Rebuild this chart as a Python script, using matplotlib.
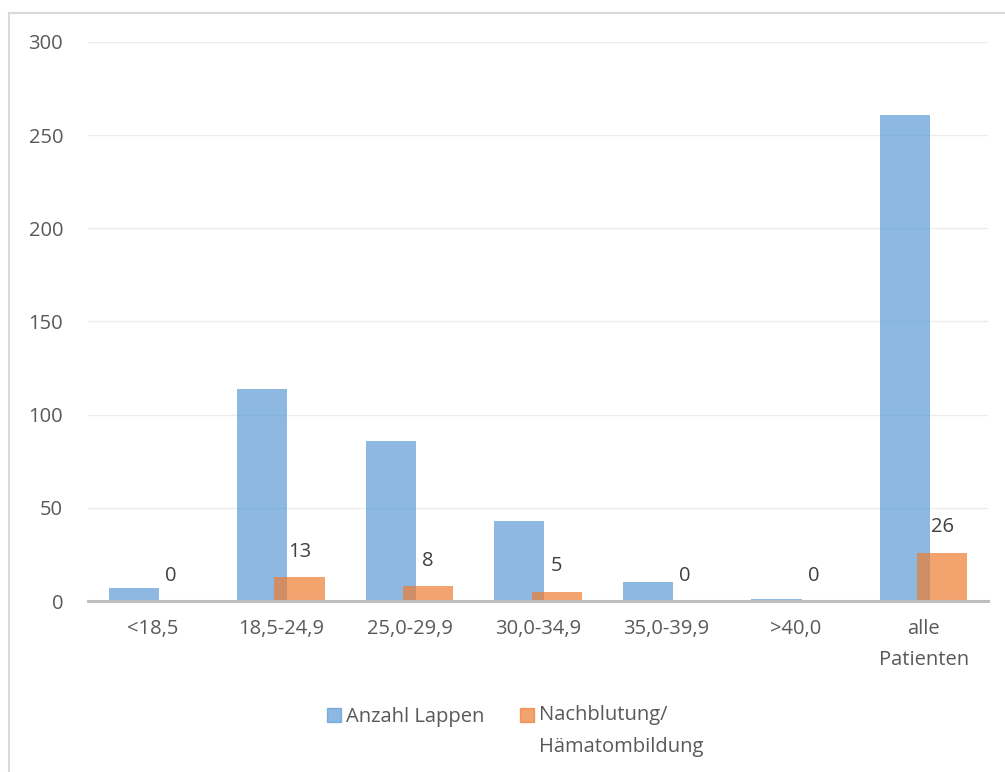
import matplotlib
matplotlib.use("Agg")
import matplotlib.pyplot as plt
from matplotlib.patches import Rectangle
from matplotlib.lines import Line2D
import numpy as np

plt.rcParams['font.family'] = ['Open Sans', 'DejaVu Sans']

categories = ['<18,5', '18,5-24,9', '25,0-29,9', '30,0-34,9', '35,0-39,9', '>40,0', 'alle\nPatienten']
anzahl_lappen = [7, 114, 86, 43, 10, 1, 261]
nachblutung = [0, 13, 8, 5, 0, 0, 26]

series_names = ['Anzahl Lappen', 'Nachblutung/\nHämatombildung']
blue = '#5B9BD5'
orange = '#ED7D31'
text_col = '#595959'
fs = 14.5

fig = plt.figure(figsize=(10.05, 7.72), dpi=100)
ax = fig.add_axes([0.0876, 0.2215, 0.8955, 0.7241])

x = np.arange(len(categories))
w = 0.39
off = 0.145
ax.bar(x - off, anzahl_lappen, w, color=blue, alpha=0.7, zorder=2)
ax.bar(x + off, nachblutung, w, color=orange, alpha=0.7, zorder=3)

# value labels over the orange bars
for xi, v in zip(x, nachblutung):
    ax.annotate(str(v), (xi + off, v), xytext=(0, 11), textcoords='offset points',
                ha='center', va='bottom', fontsize=fs, color='#404040')

ax.set_xlim(-0.5, len(categories) - 0.5)
ax.set_ylim(0, 300)
ax.set_yticks(range(0, 301, 50))
ax.set_xticks(x)
ax.set_xticklabels(categories, linespacing=1.75)
ax.tick_params(axis='y', length=0, pad=18, labelsize=fs, labelcolor=text_col)
ax.tick_params(axis='x', length=0, pad=13, labelsize=fs, labelcolor=text_col)
ax.grid(axis='y', color='#ececec', linewidth=1.0, zorder=0)
ax.set_axisbelow(True)
for s in ['top', 'right', 'left']:
    ax.spines[s].set_visible(False)
ax.spines['bottom'].set_color('#bfbfbf')
ax.spines['bottom'].set_linewidth(2.2)
ax.spines['bottom'].set_zorder(4)

# legend drawn by hand so the swatch sits on the first text line
W, H = 1005.0, 772.0
def sq(px, py, color):
    fig.patches.append(Rectangle((px / W, 1 - (py + 14) / H), 14 / W, 14 / H,
                                 transform=fig.transFigure, color=color, alpha=0.7))
sq(327, 708, blue)
fig.text(346 / W, 1 - 717 / H, series_names[0], fontsize=fs, color=text_col, va='center')
sq(520, 708, orange)
fig.text(539 / W, 1 - 705 / H, series_names[1], fontsize=fs, color=text_col, va='top',
         linespacing=1.8)

# chart area frame (left and top edges)
fig.add_artist(Line2D([9 / W, 9 / W], [0, 1 - 13 / H], transform=fig.transFigure,
                      color='#d9d9d9', linewidth=1.5))
fig.add_artist(Line2D([9 / W, 1], [1 - 13 / H, 1 - 13 / H], transform=fig.transFigure,
                      color='#d9d9d9', linewidth=1.5))

fig.savefig('out.png', dpi=100)
